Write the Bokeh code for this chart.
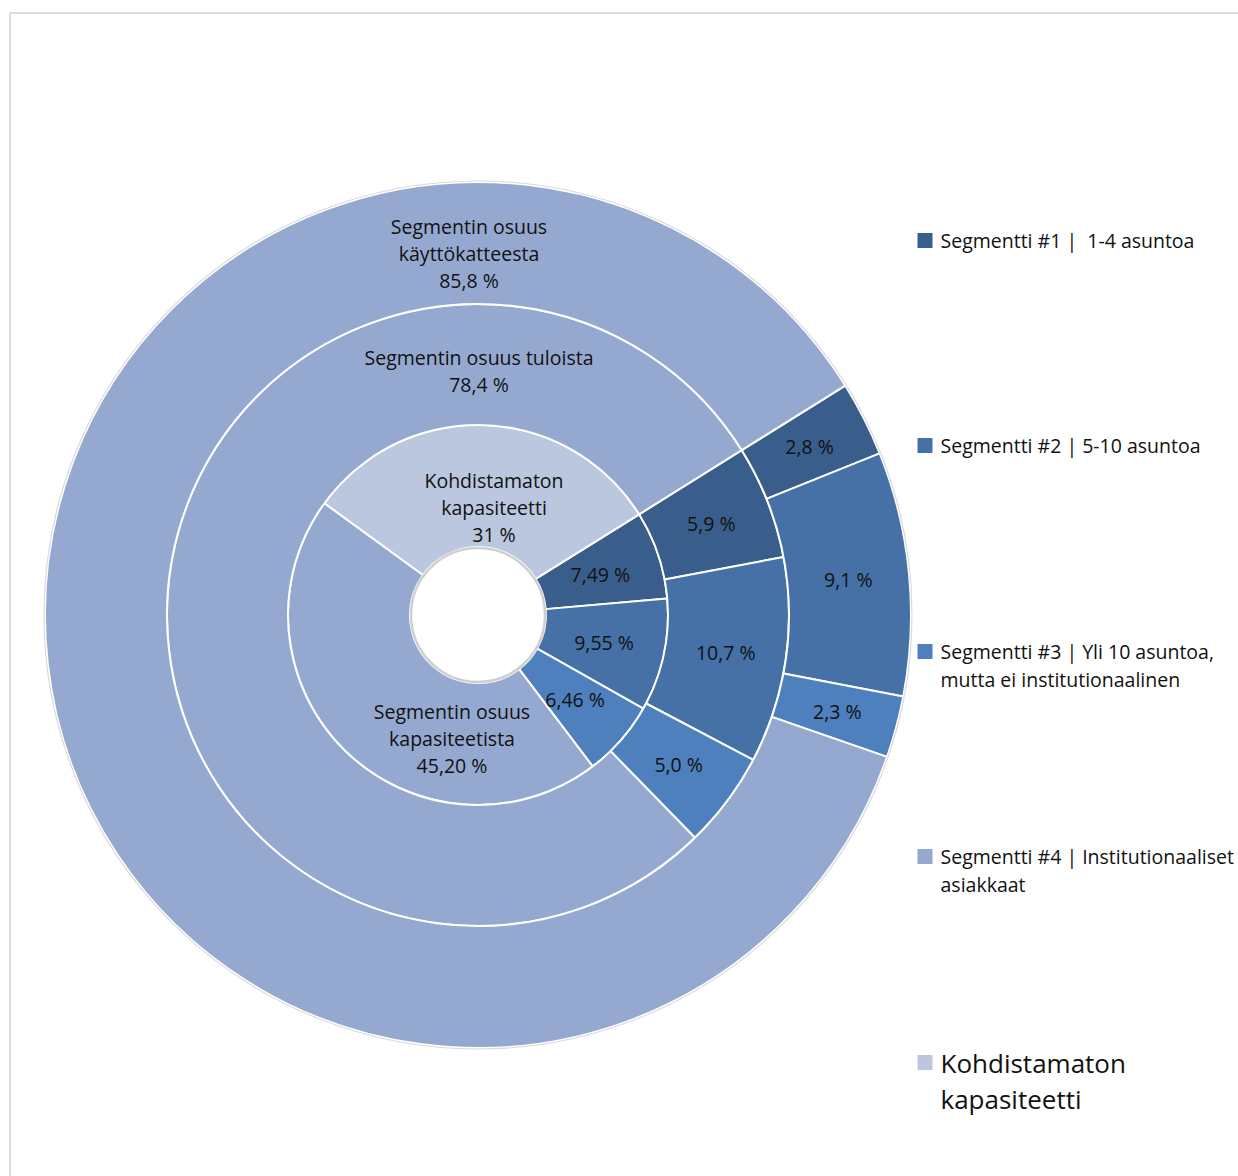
import math
from bokeh.plotting import figure
from bokeh.models import Range1d, BoxAnnotation
from bokeh.core.properties import value
from bokeh.embed import file_html
from bokeh.resources import INLINE

# --- data -------------------------------------------------------------
segments = [
    "Segmentti #1 |\u00a0 1-4 asuntoa",
    "Segmentti #2 | 5-10 asuntoa",
    "Segmentti #3 | Yli 10 asuntoa,\nmutta ei institutionaalinen",
    "Segmentti #4 | Institutionaaliset\nasiakkaat",
    "Kohdistamaton\nkapasiteetti",
]
# inner ring: share of capacity (last slice = unallocated capacity)
capacity_share = [7.49, 9.55, 6.46, 45.20, 31]
capacity_decimals = [2, 2, 2, 2, 0]
# middle ring: share of revenue
revenue_share = [5.9, 10.7, 5.0, 78.4]
revenue_decimals = [1, 1, 1, 1]
# outer ring: share of EBITDA
ebitda_share = [2.8, 9.1, 2.3, 85.8]
ebitda_decimals = [1, 1, 1, 1]

ring_titles = {
    ("capacity", 3): "Segmentin osuus\nkapasiteetista",
    ("capacity", 4): "Kohdistamaton\nkapasiteetti",
    ("revenue", 3): "Segmentin osuus tuloista",
    ("ebitda", 3): "Segmentin osuus\nkäyttökatteesta",
}

# --- style / layout ---------------------------------------------------
W, H = 1238, 1176
CX, CY = 477.5, 614.5            # ring centre on the canvas (px)
colors = ["#3A5E8C", "#4571A7", "#4E80BD", "#95A9D0", "#BBC7DF"]
FONT = "Open Sans"
TXT = "#111111"
START_DEG = 32.0                 # first slice starts here, runs clockwise

rings = [
    # name, values, decimals, inner r, outer r
    ("capacity", capacity_share, capacity_decimals, 68, 190),
    ("revenue", revenue_share, revenue_decimals, 190, 311),
    ("ebitda", ebitda_share, ebitda_decimals, 311, 433),
]

# hand-placed label centres for the large slices (px offsets from centre)
label_overrides = {
    ("capacity", 3): (-26, -123),
    ("capacity", 4): (16, 108),
    ("revenue", 3): (1, 244),
    ("ebitda", 3): (-9, 362),
}


def dx(sx):
    return sx - CX


def dy(sy):
    return CY - sy


def fmt(v, d):
    return f"{v:.{d}f}".replace(".", ",") + " %"


p = figure(width=W, height=H, output_backend="svg", toolbar_location=None,
           x_axis_type=None, y_axis_type=None, min_border=0,
           x_range=Range1d(dx(0), dx(W)), y_range=Range1d(dy(H), dy(0)),
           background_fill_color="white", border_fill_color="white",
           outline_line_color=None)
p.grid.visible = False

# frame line along the top and left
p.add_layout(BoxAnnotation(left=dx(9.5), top=dy(12.5), right=dx(W + 50), bottom=dy(H + 50),
                           fill_alpha=0, line_color="#8C8C8C", line_width=2))

start0 = math.radians(START_DEG)
label_x, label_y, label_t, label_dy = [], [], [], []


def add_label(x, y, text, gap=27):
    lines = text.split("\n")
    n = len(lines)
    for i, ln in enumerate(lines):
        label_x.append(x)
        label_y.append(y)
        label_t.append(ln)
        label_dy.append((i - (n - 1) / 2) * gap)


for name, vals, decs, r0, r1 in rings:
    total = sum(vals)
    cum = 0.0
    starts, ends, cols = [], [], []
    for i, v in enumerate(vals):
        a_hi = start0 - 2 * math.pi * cum / total
        cum += v
        a_lo = start0 - 2 * math.pi * cum / total
        starts.append(a_lo)
        ends.append(a_hi)
        cols.append(colors[i])
        txt = fmt(v, decs[i])
        key = (name, i)
        if key in ring_titles:
            txt = ring_titles[key] + "\n" + txt
        if key in label_overrides:
            lx, ly = label_overrides[key]
        else:
            mid = (a_lo + a_hi) / 2
            rm = (r0 + r1) / 2
            lx, ly = rm * math.cos(mid), rm * math.sin(mid)
        add_label(lx, ly, txt)
    p.annular_wedge(x=0, y=0, inner_radius=r0, outer_radius=r1,
                    start_angle=starts, end_angle=ends, direction="anticlock",
                    fill_color=cols, line_color="white", line_width=2)

# soft rim around the hole and the outer edge
p.circle(x=0, y=0, radius=67, fill_color=None, line_color="#CFCFCF", line_width=2.5)
p.circle(x=0, y=0, radius=434, fill_color=None, line_color="#DADADA", line_width=1.2)

p.text(x=label_x, y=label_y, text=label_t, y_offset=label_dy,
       text_font=value(FONT), text_font_size="19.5px", text_color=TXT,
       text_align="center", text_baseline="middle")

# legend
leg_sq_x = 924.5
leg_txt_x = 940
leg_y = [240, 445, 651, 856, 1062]
leg_sizes = ["19.5px", "19.5px", "19.5px", "19.5px", "26px"]
leg_gaps = [28, 28, 28, 28, 36]
p.scatter(x=[dx(leg_sq_x)] * len(segments), y=[dy(v) for v in leg_y],
          marker="square", size=15, fill_color=colors, line_color=None)
for seg, y0, fs, gap in zip(segments, leg_y, leg_sizes, leg_gaps):
    lines = seg.split("\n")
    p.text(x=[dx(leg_txt_x)] * len(lines), y=[dy(y0)] * len(lines), text=lines,
           y_offset=[i * gap for i in range(len(lines))],
           text_font=value(FONT), text_font_size=fs, text_color=TXT,
           text_align="left", text_baseline="middle")

open("out.html", "w").write(file_html(p, INLINE))
